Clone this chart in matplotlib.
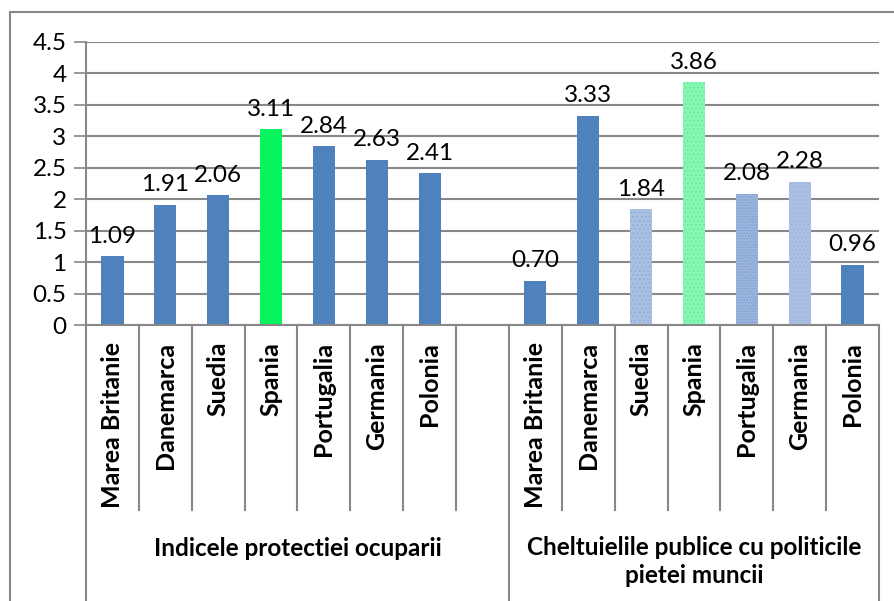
import matplotlib
matplotlib.use("Agg")
import matplotlib.pyplot as plt
from matplotlib.patches import Rectangle
import matplotlib.transforms as mtransforms

plt.rcParams['font.family'] = ['Lato', 'DejaVu Sans']
plt.rcParams['hatch.linewidth'] = 0.8

countries = ["Marea Britanie", "Danemarca", "Suedia", "Spania", "Portugalia", "Germania", "Polonia"]
groups = ["Indicele protectiei ocuparii", "Cheltuielile publice cu politicile\npietei muncii"]
values_g1 = [1.09, 1.91, 2.06, 3.11, 2.84, 2.63, 2.41]
values_g2 = [0.70, 3.33, 1.84, 3.86, 2.08, 2.28, 0.96]
labels_g1 = ["1.09", "1.91", "2.06", "3.11", "2.84", "2.63", "2.41"]
labels_g2 = ["0.70", "3.33", "1.84", "3.86", "2.08", "2.28", "0.96"]
yticks = [0, 0.5, 1, 1.5, 2, 2.5, 3, 3.5, 4, 4.5]
ytick_labels = ["0", "0.5", "1", "1.5", "2", "2.5", "3", "3.5", "4", "4.5"]

BLUE = "#4F81BD"
GREEN = "#08F45E"
styles_g1 = [(BLUE, None, None)] * 3 + [(GREEN, None, None)] + [(BLUE, None, None)] * 3
styles_g2 = [(BLUE, None, None), (BLUE, None, None),
             ("#A9C0E2", "....", "#8FAEDA"),
             ("#84F7B2", "....", "#6CE8A0"),
             ("#9DB6DD", "......", "#7F9FD2"),
             ("#A9C0E2", "....", "#9CB6DD"),
             (BLUE, None, None)]

NUM_FS = 17.5
CAT_FS = 18
GRP_FS = 17.5

fig = plt.figure(figsize=(8.95, 6.01), dpi=100)
W, H = 895, 601
x0, x1 = 86, 879
y0, y1 = 325, 42
ax = fig.add_axes([x0 / W, (H - y0) / H, (x1 - x0) / W, (y0 - y1) / H])

pos_g1 = list(range(7))
pos_g2 = list(range(8, 15))
width = 0.42

for p, v, (fc, hatch, hc) in zip(pos_g1, values_g1, styles_g1):
    ax.bar(p, v, width=width, color=fc, linewidth=0, zorder=3)
for p, v, (fc, hatch, hc) in zip(pos_g2, values_g2, styles_g2):
    if hatch:
        ax.bar(p, v, width=width, facecolor=fc, edgecolor=hc, hatch=hatch, linewidth=0, zorder=3)
    else:
        ax.bar(p, v, width=width, color=fc, linewidth=0, zorder=3)

for p, v, t in zip(pos_g1 + pos_g2, values_g1 + values_g2, labels_g1 + labels_g2):
    ax.annotate(t, (p, v), xytext=(0, 7), textcoords="offset points",
                ha="center", va="bottom", fontsize=NUM_FS, color="black", zorder=4)

ax.set_xlim(-0.5, 14.5)
ax.set_ylim(0, 4.5)
ax.set_yticks(yticks)
ax.set_yticklabels(ytick_labels, fontsize=NUM_FS)
ax.yaxis.grid(True, color="#888888", linewidth=1.5, zorder=0)
ax.set_axisbelow(True)
ax.tick_params(axis="y", length=9, width=1.2, color="#888888", pad=5)
ax.set_xticks([])
for s in ["top", "right", "bottom"]:
    ax.spines[s].set_visible(False)
ax.spines["left"].set_color("#888888")
ax.spines["left"].set_linewidth(1.5)

trans = mtransforms.blended_transform_factory(ax.transData, ax.transAxes)
ax.plot([-0.5, 14.5], [0, 0], transform=trans, color="#888888", lw=1.5, clip_on=False, zorder=5)
for k in range(16):
    xb = -0.5 + k
    if xb in (-0.5, 7.5, 14.5):
        ax.plot([xb, xb], [0, -0.97], transform=trans, color="#888888", lw=1.5, clip_on=False)
    else:
        ax.plot([xb, xb], [0, -0.655], transform=trans, color="#888888", lw=1.5, clip_on=False)

for p, name in zip(pos_g1 + pos_g2, countries + countries):
    ax.text(p, -0.06, name, transform=trans, rotation=90, ha="center", va="top",
            fontsize=CAT_FS, fontweight="bold")

ax.text(3.5, -0.79, groups[0], transform=trans, ha="center", va="center",
        fontsize=GRP_FS, fontweight="bold")
ax.text(11, -0.835, groups[1], transform=trans, ha="center", va="center",
        fontsize=GRP_FS, fontweight="bold", linespacing=1.25)

fig.patches.append(Rectangle((10 / W, -0.1), 1.2, (H - 12) / H + 0.1, transform=fig.transFigure,
                             fill=False, edgecolor="#888888", linewidth=1.5, zorder=0))

fig.savefig("out.png", dpi=100)
